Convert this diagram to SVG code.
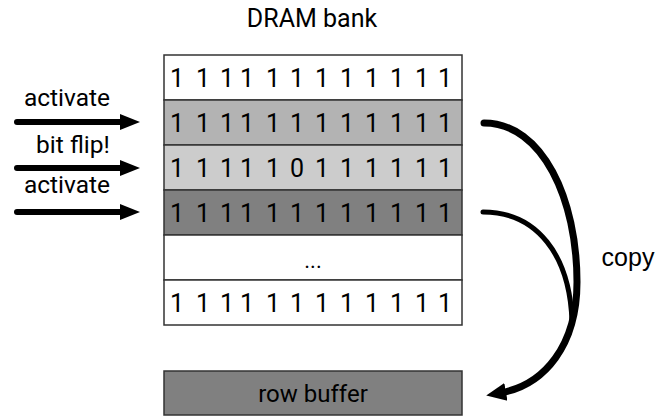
<svg xmlns="http://www.w3.org/2000/svg" width="656" height="416" viewBox="0 0 656 416">
<style>
.t{font-family:Roboto,"Liberation Sans",sans-serif;fill:#000}
.d{font-size:25px;text-anchor:middle}
.lbl{font-size:24.5px;text-anchor:middle}
.row{stroke:#333;stroke-width:1.5}
.arr{fill:none;stroke:#000;stroke-linecap:round}
</style>
<defs>
<marker id="ah" markerUnits="userSpaceOnUse" markerWidth="20" markerHeight="20" viewBox="0 0 20 20" refX="4" refY="10" orient="auto">
<polygon points="0,2 20,10 0,18" fill="#000"/>
</marker>
<marker id="ah2" markerUnits="userSpaceOnUse" markerWidth="22" markerHeight="22" viewBox="0 0 22 22" refX="6" refY="11" orient="auto">
<polygon points="0,2 20,11 0,20" fill="#000"/>
</marker>
</defs>
<text class="t" x="312" y="27" font-size="25" text-anchor="middle">DRAM bank</text>
<g id="row1"><rect class="row" x="164" y="55" width="298" height="45" fill="#ffffff"/>
<text class="t d" x="177 203 227 247 273 297 322 347 372 397 422 445" y="87">111111111111</text></g>
<g id="row2"><rect class="row" x="164" y="100" width="298" height="45" fill="#b3b3b3"/>
<text class="t d" x="177 203 227 247 273 297 322 347 372 397 422 445" y="132">111111111111</text></g>
<g id="row3"><rect class="row" x="164" y="145" width="298" height="45" fill="#cccccc"/>
<text class="t d" x="177 203 227 247 273 297 322 347 372 397 422 445" y="177">111110111111</text></g>
<g id="row4"><rect class="row" x="164" y="190" width="298" height="45" fill="#808080"/>
<text class="t d" x="177 203 227 247 273 297 322 347 372 397 422 445" y="222">111111111111</text></g>
<g id="row5"><rect class="row" x="164" y="235" width="298" height="45" fill="#ffffff"/>
<text class="t" x="313" y="268" font-size="22" text-anchor="middle">...</text></g>
<g id="row6"><rect class="row" x="164" y="280" width="298" height="45" fill="#ffffff"/>
<text class="t d" x="177 203 227 247 273 297 322 347 372 397 422 445" y="312">111111111111</text></g>
<g id="rowbuffer"><rect class="row" x="164" y="371" width="298" height="44" fill="#808080"/>
<text class="t" x="313" y="402" font-size="24" text-anchor="middle">row buffer</text></g>
<g id="labels">
<text class="t lbl" x="67" y="106">activate</text>
<text class="t lbl" x="73" y="153">bit flip!</text>
<text class="t lbl" x="67" y="193">activate</text>
<text x="628" y="266" font-family="'Liberation Sans',Arial,sans-serif" font-size="25" text-anchor="middle">copy</text>
</g>
<g id="connectors">
<line class="arr" x1="17" y1="122" x2="124" y2="122" stroke-width="6" marker-end="url(#ah)"/>
<line class="arr" x1="17" y1="168" x2="124" y2="168" stroke-width="6" marker-end="url(#ah)"/>
<line class="arr" x1="17" y1="212" x2="124" y2="212" stroke-width="6" marker-end="url(#ah)"/>
<path class="arr" d="M483,212 C537,212 570,255 572,322" stroke-width="5"/>
<path class="arr" d="M484,123 C543,123 577,200 577,282 C577,345 545,385 500,393" stroke-width="7" marker-end="url(#ah2)"/>
</g>
</svg>
